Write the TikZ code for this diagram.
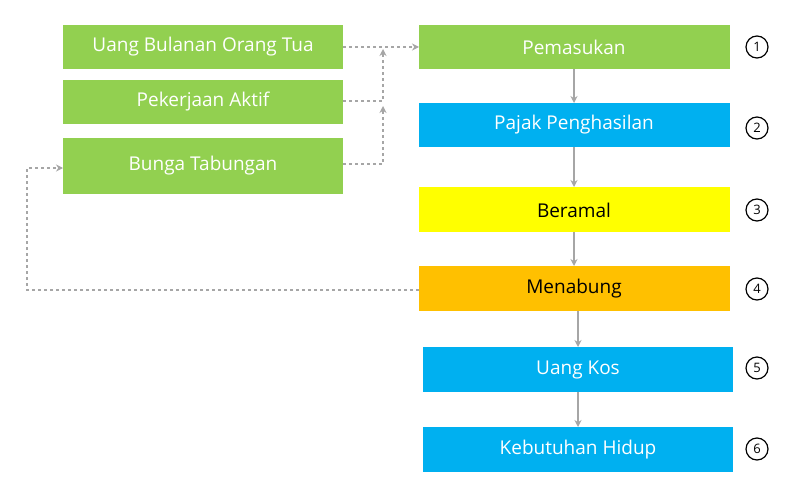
\documentclass[tikz,border=0pt]{standalone}
\usepackage{fontspec}
\setmainfont{Open Sans}
\usetikzlibrary{arrows.meta}
\definecolor{gr}{HTML}{92D050}
\definecolor{bl}{HTML}{00B0F0}
\definecolor{ye}{HTML}{FFFF00}
\definecolor{or}{HTML}{FFC000}
\definecolor{ln}{HTML}{A6A6A6}
\begin{document}
\begin{tikzpicture}[x=1pt,y=-1pt,
  box/.style={anchor=north west,inner sep=0pt,font=\fontsize{19}{22}\selectfont},
  num/.style={circle,draw,line width=1.2pt,minimum size=22pt,inner sep=0pt,font=\fontsize{13}{15}\selectfont},
  dsh/.style={ln,dashed,line width=1.5pt,-{Stealth[length=7pt,width=7pt]}},
  sol/.style={ln,line width=1.5pt,-{Stealth[length=7pt,width=7pt]}}]
\useasboundingbox (0,0) rectangle (800,500);
\newcommand{\bx}[6]{\fill[#5] (#2,#3) rectangle (#2+#4,#3+#6); \node[text=#1] (n#2#3) at (#2+#4/2,#3+#6/2) {};}
% boxes
\fill[gr] (63,25) rectangle (343,69);  \node[white,font=\fontsize{19}{22}\selectfont] (a) at (203,47) {Uang Bulanan Orang Tua};
\fill[gr] (63,80) rectangle (343,124); \node[white,font=\fontsize{19}{22}\selectfont] (b) at (203,102) {Pekerjaan Aktif};
\fill[gr] (63,138) rectangle (343,194); \node[white,font=\fontsize{19}{22}\selectfont] (c) at (203,166) {Bunga Tabungan};
\fill[gr] (419,25) rectangle (730,69); \node[white,font=\fontsize{19}{22}\selectfont] (r1) at (574,47) {Pemasukan};
\fill[bl] (419,103) rectangle (730,147); \node[white,font=\fontsize{19}{22}\selectfont] (r2) at (574,125) {Pajak Penghasilan};
\fill[ye] (419,187) rectangle (730,232); \node[black,font=\fontsize{19}{22}\selectfont] (r3) at (574,210) {Beramal};
\fill[or] (419,266) rectangle (730,311); \node[black,font=\fontsize{19}{22}\selectfont] (r4) at (574,289) {Menabung};
\fill[bl] (423,347) rectangle (733,392); \node[white,font=\fontsize{19}{22}\selectfont] (r5) at (578,370) {Uang Kos};
\fill[bl] (423,427) rectangle (733,472); \node[white,font=\fontsize{19}{22}\selectfont] (r6) at (578,450) {Kebutuhan Hidup};
\coordinate (a1) at (343,47); \coordinate (p1) at (419,47);
\coordinate (b1) at (343,101); \coordinate (j1) at (383,101); \coordinate (j1t) at (383,49);
\coordinate (c1) at (343,164); \coordinate (j2) at (383,164); \coordinate (j2t) at (383,106);
\coordinate (m1) at (419,290); \coordinate (m2) at (27,290); \coordinate (m3) at (27,168); \coordinate (cl) at (63,168);
\draw[dsh] (a1) -- (p1);
\draw[dsh] (b1) -- (j1) -- (j1t);
\draw[dsh] (c1) -- (j2) -- (j2t);
\draw[dsh] (m1) -- (m2) -- (m3) -- (cl);
% vertical arrows
\coordinate (v1a) at (574,69); \coordinate (v1b) at (574,103);
\coordinate (v2a) at (574,147); \coordinate (v2b) at (574,187);
\coordinate (v3a) at (574,232); \coordinate (v3b) at (574,266);
\coordinate (v4a) at (578,311); \coordinate (v4b) at (578,347);
\coordinate (v5a) at (578,392); \coordinate (v5b) at (578,427);
\foreach \i in {1,...,5} \draw[sol] (v\i a) -- (v\i b);
\node[num] (k1) at (757,47) {1};
\node[num] (k2) at (757,128) {2};
\node[num] (k3) at (757,210) {3};
\node[num] (k4) at (757,289) {4};
\node[num] (k5) at (757,368) {5};
\node[num] (k6) at (757,449) {6};
\end{tikzpicture}
\end{document}
